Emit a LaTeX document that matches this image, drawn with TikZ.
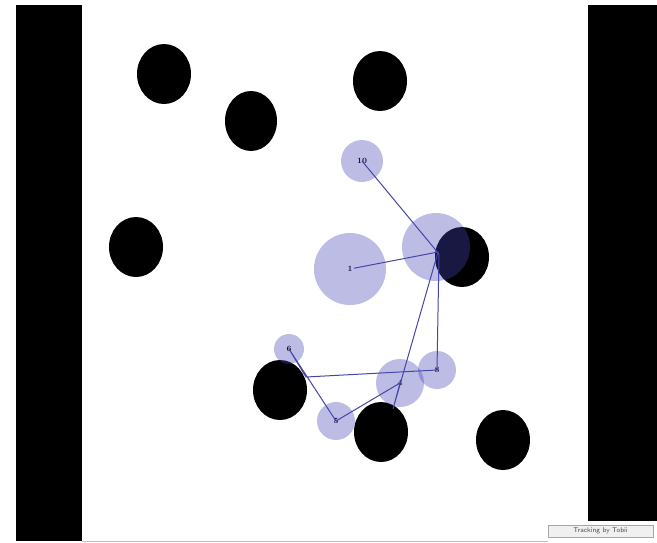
\documentclass[tikz,border=0pt]{standalone}
\usepackage{tikz}
\usetikzlibrary{shapes.geometric}
\definecolor{FixBlue}{HTML}{4545B8}
\definecolor{PathBlue}{HTML}{4646A8}
\definecolor{DotNavy}{HTML}{14143C}

\begin{document}
\begin{tikzpicture}[x=1pt,y=-1pt,
          every node/.style={font=\fontsize{8}{9}\selectfont\bfseries},
          blob/.style={ellipse,fill=black,minimum width=54pt,minimum height=60pt,inner sep=0pt},
          fix/.style={circle,fill=FixBlue,fill opacity=0.36,text opacity=1,inner sep=0pt,text=DotNavy},
          sac/.style={PathBlue,line width=1pt}]
        \useasboundingbox (0,0) rectangle (657,542);
        % screen borders
        \fill[black] (16,5) rectangle (82,541);
        \fill[black] (588,5) rectangle (657,521);
        \draw[gray!50,line width=0.6pt] (82,541) -- (548,541);

        % stimuli
        \node[blob] (s1) at (164,74)  {};
        \node[blob,minimum width=52pt] (s2) at (251,121) {};
        \node[blob] (s3) at (380,81)  {};
        \node[blob] (s4) at (136,247) {};
        \node[blob] (s5) at (462,257) {};
        \node[blob] (s6) at (280,390) {};
        \node[blob] (s7) at (381,432) {};
        \node[blob] (s8) at (503,440) {};

        % fixations
        \node[fix,minimum size=42pt] (f10) at (362,161) {10};
        \node[fix,minimum size=72pt] (f1)  at (350,269) {1};
        \node[fix,minimum size=68pt] (f2)  at (436,247) {};
        \node[fix,minimum size=30pt] (f6)  at (289,349) {6};
        \node[fix,minimum size=38pt] (f8)  at (437,370) {8};
        \node[fix,minimum size=48pt] (f4)  at (400,383) {4};
        \node[fix,minimum size=38pt] (f5)  at (336,421) {5};
        \coordinate (f2c) at (438,252);
        \coordinate (f3) at (393,409);
        \coordinate (f7) at (306,377);
        \coordinate (f9) at (439,254);

        % saccades
        \draw[sac,shorten <=4pt] (f1.center) -- (f2c) -- (f3) -- (f4.center) -- (f5.center)
          -- (f6.center) -- (f7) -- (f8.center) -- (f9) -- (f10.center);

        \node[draw=gray!70,fill=gray!12,minimum width=105pt,minimum height=12pt,
          inner sep=1pt,text=gray!60!black,font=\sffamily\fontsize{7}{8}\selectfont]
        (tag) at (600.5,531) {Tracking by Tobii};
      \end{tikzpicture}
\end{document}
